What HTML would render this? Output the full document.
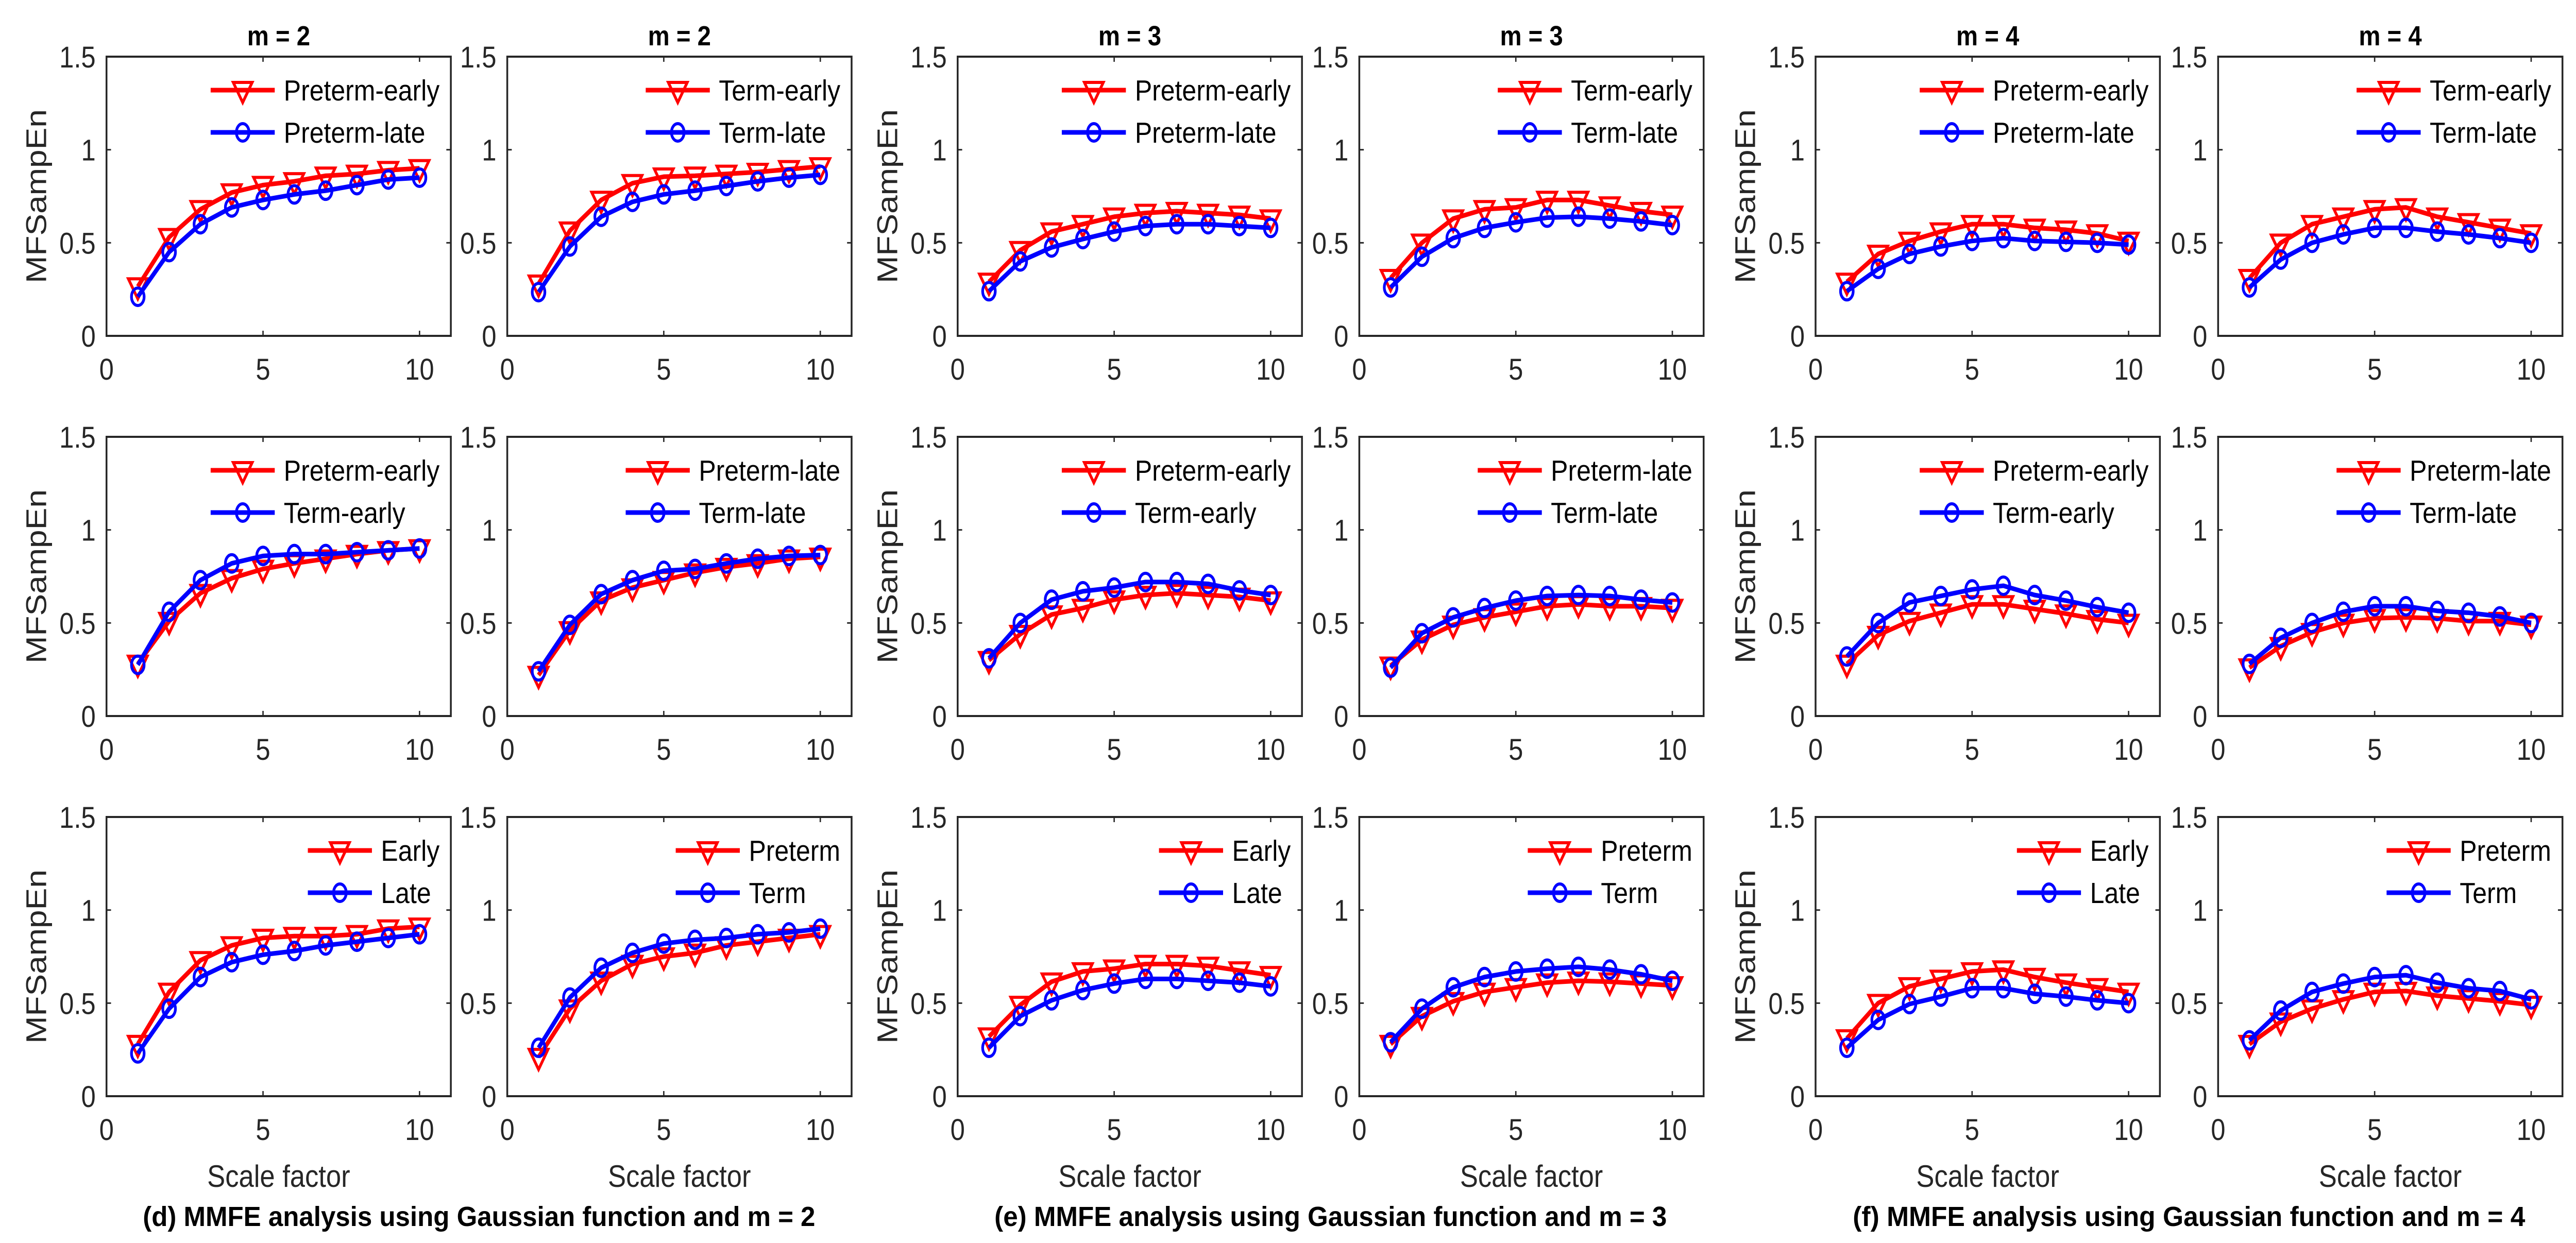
<!DOCTYPE html>
<html><head><meta charset="utf-8"><style>
html,body{margin:0;padding:0;background:#fff;width:5708px;height:2413px;overflow:hidden;}
svg{display:block;position:absolute;left:0;top:0;width:100vw;height:100vh;}
text{font-family:"Liberation Sans",sans-serif;}
</style></head><body>
<svg id="fig" width="5708" height="2413" viewBox="0 0 5708 2413" preserveAspectRatio="none" xmlns="http://www.w3.org/2000/svg"></svg>
<script>
// ---- data ----
const scales = [1,2,3,4,5,6,7,8,9,10];
const xTicks = [0,5,10];
const yTicks = [0,0.5,1,1.5];
const yTickLabels = ["0","0.5","1","1.5"];
const groupTitles = ["m = 2","m = 3","m = 4"];
const captions = ["(d) MMFE analysis using Gaussian function and m = 2","(e) MMFE analysis using Gaussian function and m = 3","(f) MMFE analysis using Gaussian function and m = 4"];

// row 1
const p1a = [.265,.53,.68,.77,.81,.83,.86,.87,.89,.90];
const p1b = [.21,.45,.60,.69,.73,.76,.78,.81,.84,.85];
const p2a = [.28,.565,.73,.82,.855,.86,.87,.88,.895,.91];
const p2b = [.235,.48,.64,.72,.76,.78,.805,.83,.85,.865];
const p3a = [.29,.46,.56,.60,.64,.66,.67,.66,.65,.63];
const p3b = [.24,.40,.475,.52,.56,.59,.60,.60,.59,.58];
const p4a = [.31,.50,.63,.68,.69,.73,.73,.70,.67,.65];
const p4b = [.26,.425,.525,.58,.61,.635,.64,.63,.615,.595];
const p5a = [.29,.44,.51,.56,.60,.60,.58,.57,.55,.51];
const p5b = [.24,.36,.44,.48,.51,.525,.51,.505,.50,.49];
const p6a = [.31,.50,.60,.64,.68,.69,.64,.61,.58,.55];
const p6b = [.26,.41,.50,.545,.58,.58,.56,.545,.525,.50];
// row 2
const p7a = [.28,.51,.66,.74,.79,.82,.845,.87,.89,.90];
const p7b = [.275,.56,.73,.82,.86,.87,.87,.88,.89,.90];
const p8a = [.22,.46,.62,.69,.73,.77,.80,.82,.845,.855];
const p8b = [.24,.49,.655,.73,.78,.79,.82,.845,.86,.865];
const p9a = [.30,.44,.545,.58,.625,.65,.66,.65,.64,.62];
const p9b = [.31,.50,.625,.67,.69,.72,.72,.71,.675,.65];
const p10a = [.27,.41,.49,.53,.56,.59,.60,.59,.59,.58];
const p10b = [.26,.445,.53,.58,.62,.645,.65,.645,.625,.61];
const p11a = [.28,.435,.51,.555,.60,.60,.575,.55,.52,.50];
const p11b = [.32,.50,.61,.645,.68,.70,.65,.62,.585,.555];
const p12a = [.26,.375,.45,.50,.525,.53,.525,.51,.51,.49];
const p12b = [.28,.42,.50,.56,.59,.59,.565,.555,.535,.50];
// row 3
const p13a = [.28,.56,.73,.81,.85,.86,.86,.87,.90,.91];
const p13b = [.23,.47,.64,.72,.76,.78,.81,.83,.85,.87];
const p14a = [.21,.47,.62,.71,.75,.77,.81,.83,.85,.87];
const p14b = [.26,.53,.69,.77,.82,.84,.85,.87,.88,.90];
const p15a = [.32,.49,.615,.67,.685,.71,.71,.70,.675,.65];
const p15b = [.26,.43,.515,.57,.605,.63,.63,.62,.61,.59];
const p16a = [.28,.43,.51,.56,.585,.61,.62,.615,.605,.595];
const p16b = [.29,.47,.585,.64,.67,.685,.695,.68,.655,.62];
const p17a = [.31,.50,.59,.63,.67,.68,.64,.61,.585,.56];
const p17b = [.26,.41,.495,.535,.58,.58,.55,.535,.515,.50];
const p18a = [.28,.40,.47,.52,.56,.565,.54,.525,.51,.49];
const p18b = [.30,.46,.56,.605,.64,.65,.61,.58,.565,.52];

const legendRow1 = [["Preterm-early","Preterm-late"],["Term-early","Term-late"]];
const legendRow2 = [["Preterm-early","Term-early"],["Preterm-late","Term-late"]];
const legendRow3 = [["Early","Late"],["Preterm","Term"]];

const seriesGrid = [
  [[p1a,p1b],[p2a,p2b],[p3a,p3b],[p4a,p4b],[p5a,p5b],[p6a,p6b]],
  [[p7a,p7b],[p8a,p8b],[p9a,p9b],[p10a,p10b],[p11a,p11b],[p12a,p12b]],
  [[p13a,p13b],[p14a,p14b],[p15a,p15b],[p16a,p16b],[p17a,p17b],[p18a,p18b]]
];
const legendGrid = [legendRow1, legendRow2, legendRow3];

// ---- layout ----
const NS = "http://www.w3.org/2000/svg";
const svg = document.getElementById("fig");
const colLefts = [236,1124,2122,3012,4023,4915];
const rowTops = [110,848,1586];
const PW = 763, PH = 542;
const XMIN = 0, XMAX = 11, YMIN = 0, YMAX = 1.5;
const AX = "#262626";

function mk(tag, attrs, parent){
  const e = document.createElementNS(NS, tag);
  for (const k in attrs) e.setAttribute(k, attrs[k]);
  (parent||svg).appendChild(e);
  return e;
}
function xScale(left, v){ return left + (v - XMIN) / (XMAX - XMIN) * PW; }
function yScale(top, v){ return top + PH - (v - YMIN) / (YMAX - YMIN) * PH; }

function tri(g, x, y, name){
  const t = mk("polygon", {points:`${x-21},${y-15} ${x+21},${y-15} ${x},${y+24}`, fill:"none", stroke:"#ff0000", "stroke-width":6, "stroke-linejoin":"miter"}, g);
  
  
}
function circ(g, x, y, name){
  const c = mk("ellipse", {cx:x, cy:y, rx:14, ry:17, fill:"none", stroke:"#0000ff", "stroke-width":6}, g);
  
  
}

for (let r = 0; r < 3; r++){
  for (let c = 0; c < 6; c++){
    const left = colLefts[c], top = rowTops[r];
    const g = mk("g", {});
    
    
    const bg = mk("rect", {x:left, y:top, width:PW, height:PH, fill:"#fff"}, g);
    
    
    xTicks.forEach(t => {
      const x = xScale(left, t);
      const tk1 = mk("line", {x1:x, y1:top+PH, x2:x, y2:top+PH-10, stroke:AX, "stroke-width":3}, g);
      
      
      const tk2 = mk("line", {x1:x, y1:top, x2:x, y2:top+10, stroke:AX, "stroke-width":3}, g);
      
      
      const lab = mk("text", {x:x, y:top+PH+85, "font-size":58, "text-anchor":"middle", fill:AX}, g);
      lab.textContent = String(t);
      
      
    });
    yTicks.forEach((t, i) => {
      const y = yScale(top, t);
      const tk1 = mk("line", {x1:left, y1:y, x2:left+10, y2:y, stroke:AX, "stroke-width":3}, g);
      
      
      const tk2 = mk("line", {x1:left+PW, y1:y, x2:left+PW-10, y2:y, stroke:AX, "stroke-width":3}, g);
      
      
      const lab = mk("text", {x:left-24, y:y+21, "font-size":58, "text-anchor":"end", fill:AX}, g);
      lab.textContent = yTickLabels[i];
      
      
    });
    const [ra, rb] = seriesGrid[r][c];
    const ptsA = scales.map((s,i) => [xScale(left,s), yScale(top,ra[i])]);
    const ptsB = scales.map((s,i) => [xScale(left,s), yScale(top,rb[i])]);
    const la = mk("polyline", {points:ptsA.map(p=>p.join(",")).join(" "), fill:"none", stroke:"#ff0000", "stroke-width":9, "stroke-linejoin":"round"}, g);
    
    
    ptsA.forEach(p => tri(g, p[0], p[1], 'red-triangle-marker'));
    const lb = mk("polyline", {points:ptsB.map(p=>p.join(",")).join(" "), fill:"none", stroke:"#0000ff", "stroke-width":9, "stroke-linejoin":"round"}, g);
    
    
    ptsB.forEach(p => circ(g, p[0], p[1], 'blue-circle-marker'));
    const box = mk("rect", {x:left, y:top, width:PW, height:PH, fill:"none", stroke:AX, "stroke-width":4}, g);
    
    
    const labels = legendGrid[r][c % 2];
    const lg = mk("g", {}, g);
    
    
    const texts = [];
    labels.forEach((lbl, i) => {
      const tx = mk("text", {x:0, y:top + (i===0?65:147) + 20, "font-size":57, fill:"#000"}, lg);
      tx.textContent = lbl;
      
      
      texts.push(tx);
    });
    const maxW = Math.max(...texts.map(t => t.getComputedTextLength()));
    const textX = left + PW - 25 - maxW;
    texts.forEach((tx, i) => {
      tx.setAttribute("x", textX);
      const ly = top + (i===0?65:147);
      const col = i===0 ? "#ff0000" : "#0000ff";
      const ll = mk("line", {x1:textX-162, y1:ly, x2:textX-20, y2:ly, stroke:col, "stroke-width":9}, lg);
      
      
      if (i===0) tri(lg, textX-91, ly, 'legend-triangle-marker'); else circ(lg, textX-91, ly, 'legend-circle-marker');
    });
    if (c % 2 === 0){
      const cx = left - 157, cy = top + PH/2;
      const yl = mk("text", {x:cx, y:cy, "font-size":64, "text-anchor":"middle", fill:AX, transform:`rotate(-90 ${cx} ${cy}) translate(0 23)`}, g);
      yl.textContent = "MFSampEn";
      
      
    }
    if (r === 0){
      const t = mk("text", {x:left+PW/2, y:88, "font-size":54, "font-weight":"bold", "text-anchor":"middle", fill:"#000"}, g);
      t.textContent = groupTitles[Math.floor(c/2)];
      
      
    }
    if (r === 2){
      const t = mk("text", {x:left+PW/2, y:2304, "font-size":60, "text-anchor":"middle", fill:AX}, g);
      t.textContent = "Scale factor";
      
      
    }
  }
}
for (let k = 0; k < 3; k++){
  const cx = (colLefts[2*k] + colLefts[2*k+1] + PW) / 2;
  const t = mk("text", {x:cx, y:2380, "font-size":54, "font-weight":"bold", "text-anchor":"middle", fill:"#000", textLength:1490, lengthAdjust:"spacingAndGlyphs"});
  t.textContent = captions[k];
  
  
}
</script>
</body></html>
